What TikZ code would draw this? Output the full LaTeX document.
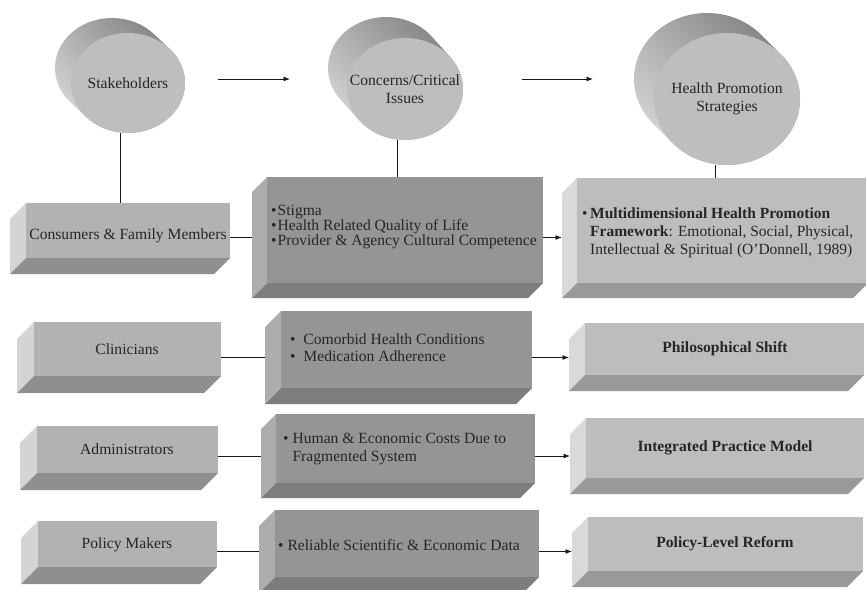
\documentclass[tikz,border=0pt]{standalone}
\usepackage{fontspec}
\setmainfont{Liberation Serif}
\usetikzlibrary{arrows.meta,calc,shapes.geometric}
\definecolor{txt}{gray}{0.15}
\definecolor{lfront}{gray}{0.70}
\definecolor{lside}{gray}{0.83}
\definecolor{lbot}{gray}{0.56}
\definecolor{rfront}{gray}{0.74}
\definecolor{rside}{gray}{0.85}
\definecolor{rbot}{gray}{0.60}
\definecolor{dfront}{gray}{0.585}
\definecolor{dside}{gray}{0.68}
\definecolor{dbot}{gray}{0.49}
\definecolor{discface}{gray}{0.745}
\definecolor{discdark}{gray}{0.50}
\definecolor{disclight}{gray}{0.85}
\definecolor{linec}{gray}{0.10}

\newcommand\bevbox[7]{% name, x1, y1, x2, y2, depth, scheme
  \fill[#7side] (#2,#3) -- (#2-#6,#3+#6) -- (#2-#6,#5+#6) -- (#2,#5) -- cycle;
  \fill[#7bot] (#2,#5) -- (#4,#5) -- (#4-#6,#5+#6) -- (#2-#6,#5+#6) -- cycle;
  \fill[#7front] (#2,#3) rectangle (#4,#5);
  \node[hull, anchor=north west, minimum width={#4pt-#2pt+#6pt},
        minimum height={#5pt-#3pt+#6pt}] (#1) at (#2-#6,#3) {};
}
\newcommand\disc[8]{% name, cx, cy, a, b, ox, oy, text
  \pgfmathsetmacro\dth{atan2(-(#5)*(#6), -(#4)*(#7))}
  \shade[discside] ($(#2,#3)+(\dth:#4pt and #5pt)$)
     -- ($(#2,#3)+(#6,#7)+(\dth:#4pt and #5pt)$)
     arc[start angle=\dth, end angle=\dth+180, x radius=#4pt, y radius=#5pt]
     -- ($(#2,#3)+(\dth+180:#4pt and #5pt)$)
     arc[start angle=\dth+180, end angle=\dth+360, x radius=#4pt, y radius=#5pt]
     -- cycle;
  \node[discnode, minimum width=2*#4pt, minimum height=2*#5pt] (#1) at (#2,#3) {};
  \node[disctext] (#1T) at (#1.center) {#8};
}

\begin{document}
\begin{tikzpicture}[x=1pt, y=-1pt,
  hull/.style={rectangle, inner sep=0pt, outer sep=0pt},
  discside/.style={top color=discdark, bottom color=disclight, shading angle=-45},
  discnode/.style={ellipse, fill=discface, inner sep=0pt, outer sep=0pt},
  disctext/.style={inner sep=0pt, align=center, text=txt,
    font=\fontsize{15.6}{18.5}\selectfont},
  lbl/.style={inner sep=0pt, align=center, text=txt,
    font=\fontsize{15.6}{17}\selectfont},
  lbll/.style={lbl, align=left, anchor=west},
  conn/.style={draw=linec, line width=0.9pt},
  arr/.style={conn, -{Latex[length=6.5pt,width=5pt]}}]

\fill[white] (0,0) rectangle (866,589);
\useasboundingbox (0,0) rectangle (866,589);
\clip (0,0) rectangle (866,589);

% discs
\disc{stake}{128}{83}{57}{50}{-16}{-15}{Stakeholders}
\disc{conc}{405}{89}{58}{51}{-19}{-21}{Concerns/Critical\\Issues}
\disc{hpsd}{727}{99}{73}{66}{-20}{-20}{Health Promotion\\Strategies}

% boxes
\bevbox{cons}{26}{203}{230}{258}{16}{l}
\bevbox{stig}{267}{177}{543}{283}{15}{d}
\bevbox{hpsb}{577}{178}{868}{283}{15}{r}
\bevbox{clin}{34}{322}{221}{376}{17}{l}
\bevbox{como}{281}{311}{532}{388}{16}{d}
\bevbox{phil}{585}{323}{864}{375}{16}{r}
\bevbox{admin}{37}{426}{218}{473}{17}{l}
\bevbox{human}{276}{414}{535}{483}{15}{d}
\bevbox{integ}{586}{418}{864}{478}{16}{r}
\bevbox{polm}{38}{521}{217}{567}{17}{l}
\bevbox{reli}{275}{510}{539}{577}{16}{d}
\bevbox{plr}{588}{517}{863}{571}{16}{r}

% texts
\node[lbl] (consT) at (128,236) {Consumers \& Family Members};
\node[lbll, font=\fontsize{15.6}{14.8}\selectfont] (stigT) at (271,227)
  {•\kern1pt Stigma\\•\kern1pt Health Related Quality of Life\\•\kern1pt Provider \& Agency Cultural Competence};
\node[lbll, font=\fontsize{15.5}{18}\selectfont] (hpsT) at (582,233)
  {•\,\textbf{Multidimensional Health Promotion}\\\phantom{•\,}\textbf{Framework}: Emotional, Social, Physical,\\\phantom{•\,}Intellectual \& Spiritual (O’Donnell, 1989)};
\node[lbl] (clinT) at (127,349) {Clinicians};
\node[lbll] (comoT) at (290,348) {•\ \ Comorbid Health Conditions\\•\ \ Medication Adherence};
\node[lbl, font=\fontsize{15.6}{17}\selectfont\bfseries] (philT) at (725,349) {Philosophical Shift};
\node[lbl] (adminT) at (127,449) {Administrators};
\node[lbll, font=\fontsize{15.6}{18}\selectfont] (humanT) at (283,449)
  {•\ Human \& Economic Costs Due to\\\phantom{•\ }Fragmented System};
\node[lbl, font=\fontsize{15.6}{17}\selectfont\bfseries] (integT) at (725,448) {Integrated Practice Model};
\node[lbl] (polmT) at (127,545) {Policy Makers};
\node[lbll] (reliT) at (278,545) {•\ Reliable Scientific \& Economic Data};
\node[lbl, font=\fontsize{15.6}{17}\selectfont\bfseries] (plrT) at (725,544) {Policy-Level Reform};

% top arrows
\coordinate (a1s) at (218,79);
\coordinate (a1e) at (290,79);
\coordinate (a2s) at (522,79);
\coordinate (a2e) at (593,79);
\draw[arr] (a1s) -- (a1e);
\draw[arr] (a2s) -- (a2e);

% vertical connectors
\draw[conn] (stake.south -| cons.north) -- (cons.north);
\draw[conn] (conc.south -| stig.north) -- (stig.north);
\draw[conn] (hpsd.south -| hpsb.north) -- (hpsb.north);

% row connectors
\draw[conn] (cons.east |- stig.west) -- (stig.west);
\draw[arr] (stig.east) -- (stig.east -| hpsb.west);
\draw[conn] (clin.east |- como.west) -- (como.west);
\draw[arr] (como.east) -- (como.east -| phil.west);
\draw[conn] (admin.east |- human.west) -- (human.west);
\draw[arr] (human.east) -- (human.east -| integ.west);
\draw[conn] (polm.east |- reli.west) -- (reli.west);
\draw[arr] (reli.east) -- (reli.east -| plr.west);
\end{tikzpicture}
\end{document}
